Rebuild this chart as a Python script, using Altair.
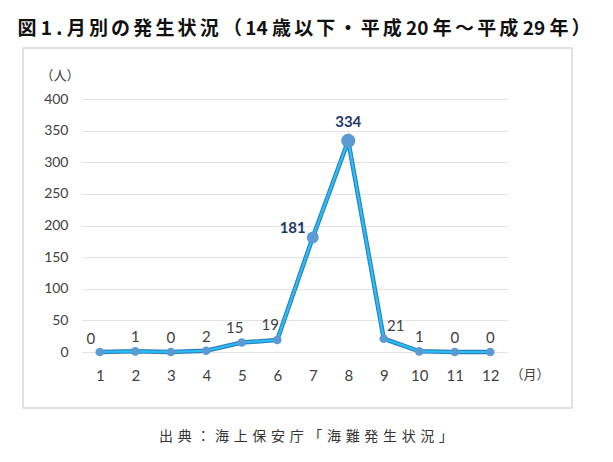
import altair as alt
import pandas as pd

months = ["1", "2", "3", "4", "5", "6", "7", "8", "9", "10", "11", "12"]
counts = [0, 1, 0, 2, 15, 19, 181, 334, 21, 1, 0, 0]
y_ticks = [0, 50, 100, 150, 200, 250, 300, 350, 400]

title_text = "図 1 . 月別の発生状況 （14 歳以下・平成 20 年～平成 29 年）"
source_text = "出典：海上保安庁「海難発生状況」"
y_unit = "（人）"
x_unit = "（月）"


def spaced(s, sp):
    out = ""
    for i, ch in enumerate(s):
        out += ch
        if i + 1 < len(s):
            nxt = s[i + 1]
            if not (ch.isdigit() and nxt.isdigit()) and ch != " " and nxt != " ":
                out += sp
    return out


df = pd.DataFrame({"month": months, "count": counts})
one = pd.DataFrame({"k": [0]})

W, H = 426, 253
LEFT, TOP = 74, 91

num_font = "Lato"
cjk_font = "Noto Sans CJK JP"

x_enc = alt.X("month:O", sort=months,
              scale=alt.Scale(type="point", padding=0.5),
              axis=alt.Axis(title=None, labelAngle=0, domain=False, ticks=False, tickSize=0,
                            grid=False, labelFontSize=15, labelColor="#404040",
                            labelFont=num_font, labelPadding=16))
y_enc = alt.Y("count:Q", scale=alt.Scale(domain=[0, 400], nice=False),
              axis=alt.Axis(title=None, values=y_ticks, domain=False, ticks=False, tickSize=0,
                            gridColor="#e3e3e3", gridWidth=1, labelFontSize=14,
                            labelOverlap=False,
                            labelColor="#404040", labelFont=num_font, labelPadding=14))

base = alt.Chart(df)

box = alt.Chart(one).mark_rect(fill="transparent", stroke="#d9d9d9", strokeWidth=1.5).encode(
    x=alt.value(23 - 82), x2=alt.value(572 - 82), y=alt.value(48 - 99), y2=alt.value(408 - 99))

line_outer = base.mark_line(color="#2f7fc0", strokeWidth=4.5).encode(x=x_enc, y=y_enc)
line_inner = base.mark_line(color="#29c0f2", strokeWidth=2.2).encode(x=x_enc, y=y_enc)

points = base.transform_calculate(
    sz="datum.count > 300 ? 200 : (datum.count > 100 ? 140 : 75)"
).mark_point(filled=True, color="#5b9bd5", opacity=1).encode(
    x=x_enc, y=y_enc, size=alt.Size("sz:Q", scale=None, legend=None))


def labels(filter_expr, **kw):
    return base.transform_filter(filter_expr).mark_text(**kw).encode(
        x=x_enc, y=y_enc, text=alt.Text("count:Q"))


norm = dict(font=num_font, fontSize=15, color="#404040")
lab_above = labels("datum.count < 10 && datum.month != '1'", dy=-14, **norm)
lab_left = labels("datum.count >= 10 && datum.count < 20", dx=-7, dy=-15, **norm)
lab_first = labels("datum.month == '1'", dx=-9, dy=-13, **norm)
lab_nine = labels("datum.month == '9'", dx=12, dy=-13, **norm)
bold = dict(font=num_font, fontSize=15, fontWeight="bold", color="#1f3864")
lab_mid = labels("datum.count > 100 && datum.count < 300", align="right", dx=-7, dy=-10, **bold)
lab_peak = labels("datum.count > 300", dy=-19, **bold)


def note(text, x, y, **kw):
    return alt.Chart(one).mark_text(**kw).encode(
        x=alt.value(x), y=alt.value(y), text=alt.value(text))


title = note(spaced(title_text, "\u2006"), 304 - 82, 29 - 99, font=cjk_font, fontSize=19,
             fontWeight="bold", color="#111111", baseline="middle")
source = note(spaced(source_text, "\u2004"), 306 - 82, 437 - 99, font=cjk_font, fontSize=14,
              color="#333333", baseline="middle")
yunit = note(y_unit, 60 - 82, 76 - 99, font=cjk_font, fontSize=13, color="#404040", baseline="middle")
xunit = note(x_unit, 530 - 82, 375 - 99, font=cjk_font, fontSize=13, color="#404040", baseline="middle")

chart = alt.layer(box, line_outer, line_inner, points, lab_above, lab_left, lab_first, lab_nine,
                  lab_mid, lab_peak, title, source, yunit, xunit).properties(
    width=W, height=H, autosize="none",
    padding={"left": LEFT, "top": TOP, "right": 597 - LEFT - W, "bottom": 446 - TOP - H},
    background="white"
).configure_view(stroke=None)

chart.save("out.html", embed_options={"renderer": "svg", "actions": False})
